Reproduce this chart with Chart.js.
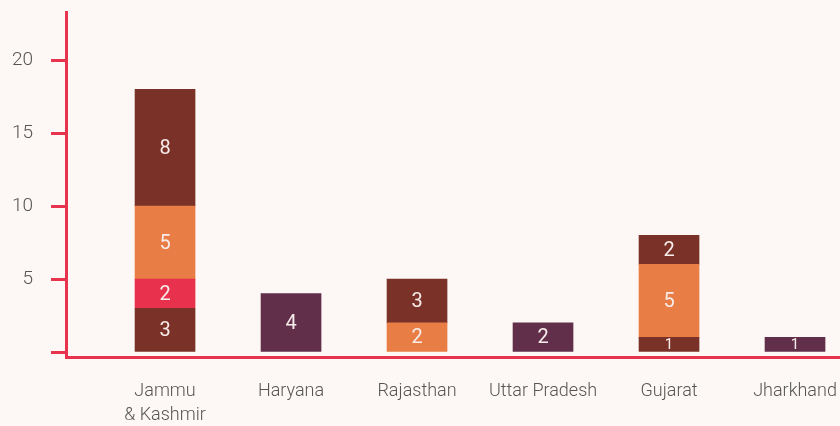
<!DOCTYPE html>
<html>
<head>
<meta charset="utf-8">
<script src="https://cdn.jsdelivr.net/npm/chart.js@4/dist/chart.umd.min.js"></script>
<style>
  html, body { margin: 0; padding: 0; background: #fdf8f5; }
  #wrap { width: 840px; height: 426px; }
</style>
</head>
<body>
<div id="wrap"><canvas id="grafico"></canvas></div>
<script>
// === datos ===
const categorias = [["Jammu", "& Kashmir"], "Haryana", "Rajasthan", "Uttar Pradesh", "Gujarat", "Jharkhand"];

// segmentos apilados, de abajo hacia arriba
const nivel1 = [3, 4, 2, 2, 1, 1];
const nivel2 = [2, null, 3, null, 5, null];
const nivel3 = [5, null, null, null, 2, null];
const nivel4 = [8, null, null, null, null, null];

const MARRON = "#7a3228";
const ROJO = "#e8314d";
const NARANJA = "#e87d45";
const MORADO = "#622f4b";

const colores1 = [MARRON, MORADO, NARANJA, MORADO, MARRON, MORADO];
const colores2 = [ROJO, null, MARRON, null, NARANJA, null];
const colores3 = [NARANJA, null, null, null, MARRON, null];
const colores4 = [MARRON, null, null, null, null, null];

const ticksY = [0, 5, 10, 15, 20];

const EJE = "#e8334f";
const TEXTO = "#555555";

function serie(valores, colores) {
    return {
        data: valores.map((v, i) => v == null ? null : { x: i, y: v }).filter(Boolean),
        backgroundColor: (ctx) => ctx.raw ? colores[ctx.raw.x] : "transparent",
        barThickness: 60,
        borderWidth: 0
    };
}

// etiquetas blancas dentro de cada segmento
const etiquetas = {
    id: "etiquetas",
    afterDatasetsDraw(chart) {
        const ctx = chart.ctx;
        ctx.save();
        ctx.textAlign = "center";
        ctx.textBaseline = "middle";
        ctx.fillStyle = "#f8ecea";
        chart.data.datasets.forEach((ds, di) => {
            const meta = chart.getDatasetMeta(di);
            meta.data.forEach((bar, i) => {
                const p = bar.getProps(["x", "y", "base"], true);
                const alto = Math.abs(p.base - p.y);
                const size = Math.min(20, Math.round(alto + 1));
                ctx.font = "400 " + size + "px Roboto";
                ctx.fillText(String(ds.data[i].y), p.x, (p.y + p.base) / 2 + 1);
            });
        });
        ctx.restore();
    }
};

new Chart(document.getElementById("grafico"), {
    type: "bar",
    data: {
        datasets: [
            serie(nivel1, colores1),
            serie(nivel2, colores2),
            serie(nivel3, colores3),
            serie(nivel4, colores4)
        ]
    },
    options: {
        responsive: true,
        maintainAspectRatio: false,
        animation: false,
        layout: { padding: { top: 12, right: 0, left: 0, bottom: 0 } },
        plugins: { legend: { display: false }, tooltip: { enabled: false } },
        scales: {
            x: {
                type: "linear",
                stacked: true,
                offset: false,
                min: -0.786,
                max: 5.357,
                afterBuildTicks: (scale) => { scale.ticks = categorias.map((c, i) => ({ value: i })); },
                afterFit: (scale) => {
                    scale.height = 69;
                    scale.paddingLeft = 0;
                    scale.paddingRight = 0;
                },
                grid: { display: false },
                border: { display: true, color: EJE, width: 3 },
                ticks: {
                    padding: 15,
                    color: TEXTO,
                    font: { family: "Roboto", size: 18, weight: 300, lineHeight: 1.3 },
                    callback: (v) => categorias[v]
                }
            },
            y: {
                stacked: true,
                min: -0.34,
                max: 23.29,
                afterBuildTicks: (scale) => { scale.ticks = ticksY.map(v => ({ value: v })); },
                afterFit: (scale) => {
                    scale.width = 66;
                    scale.paddingTop = 0;
                    scale.paddingBottom = 0;
                },
                grid: {
                    drawOnChartArea: false,
                    drawTicks: true,
                    tickLength: 15,
                    tickWidth: 3,
                    tickColor: EJE
                },
                border: { display: true, color: EJE, width: 3 },
                ticks: {
                    padding: 18,
                    color: TEXTO,
                    font: { family: "Roboto", size: 19, weight: 300 },
                    callback: (v) => v === 0 ? "" : v
                }
            }
        }
    },
    plugins: [etiquetas]
});
</script>
</body>
</html>
